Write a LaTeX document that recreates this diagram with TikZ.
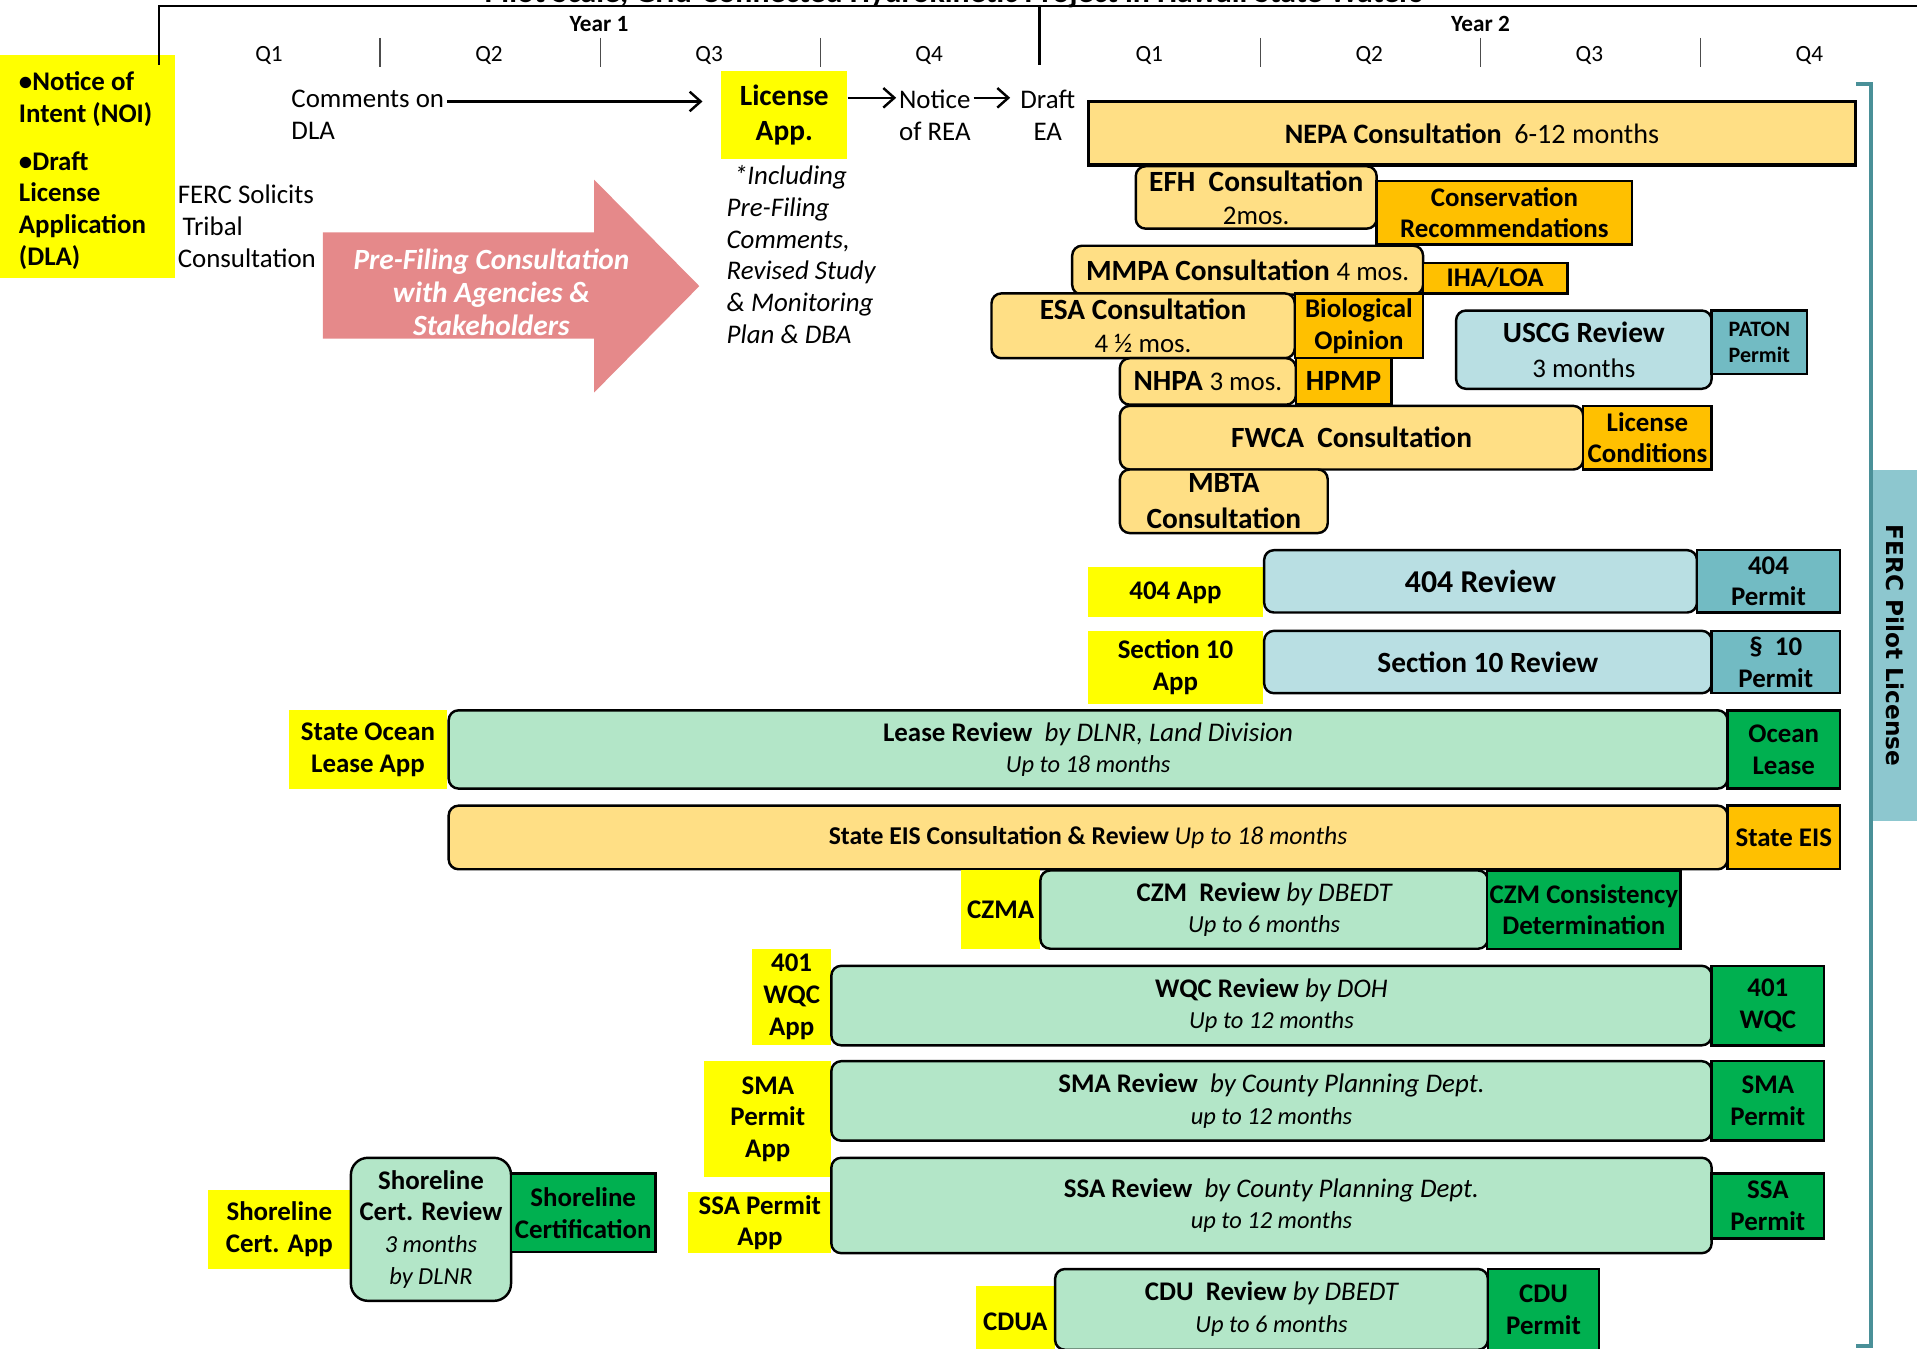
\documentclass[tikz,border=0pt]{standalone}
\usepackage{fontspec}
\setmainfont{Carlito}
\newfontfamily\labelfont{DejaVu Sans}
\usetikzlibrary{arrows.meta}

\definecolor{appY}{HTML}{FFFF00}
\definecolor{consO}{HTML}{FFDF85}
\definecolor{outO}{HTML}{FFC000}
\definecolor{revB}{HTML}{B9DFE3}
\definecolor{permB}{HTML}{72BBC3}
\definecolor{revG}{HTML}{B3E6C8}
\definecolor{permG}{HTML}{00B050}
\definecolor{pinkA}{HTML}{E5898A}
\definecolor{brk}{HTML}{4A9098}
\definecolor{brkfill}{HTML}{8DC7CF}

\newcommand{\sizeQ}{\fontsize{9.5}{11}\selectfont}
\newcommand{\sizeS}{\fontsize{9}{10.5}\selectfont}
\newcommand{\sizeM}{\fontsize{10}{12.5}\selectfont}
\newcommand{\sizeN}{\fontsize{11}{13}\selectfont}
\newcommand{\sizeL}{\fontsize{12}{13.5}\selectfont}
\newcommand{\sizeX}{\fontsize{13}{15}\selectfont}
\newcommand{\itnote}[1]{{\mdseries\itshape #1}}

\tikzset{
  sz/.style 2 args={minimum width=#1*0.5pt, minimum height=#2*0.5pt},
  base/.style={inner sep=1pt, align=center, font=\sizeN\bfseries},
  app/.style={base, fill=appY},
  cons/.style={base, draw, line width=1pt, rounded corners=4pt, fill=consO},
  outc/.style={base, draw, line width=1pt, fill=outO},
  revb/.style={base, draw, line width=1pt, rounded corners=4pt, fill=revB},
  permb/.style={base, draw, line width=1pt, fill=permB},
  revg/.style={base, draw, line width=1pt, rounded corners=4pt, fill=revG},
  permg/.style={base, draw, line width=1pt, fill=permG},
  arr/.style={line width=1pt, -{Straight Barb[length=4.5pt,width=8pt]}},
}

\begin{document}
\begin{tikzpicture}[x=0.5pt, y=-0.5pt]
\useasboundingbox (0,0) rectangle (1568,1103);

% left notes
\node[app, sz={143}{182}, align=left] (noi) at (71.5,136) {};
\node[font=\sizeN\bfseries, align=left, inner sep=0pt] (noitxt) at (70,139.5) {\textbullet Notice of\\Intent (NOI)\\[6.5pt]\textbullet Draft\\License\\Application\\(DLA)};
\node[font=\sizeN, align=left, anchor=west, inner sep=1pt] (ferc) at (143,185) {FERC Solicits\\\hspace*{2pt}Tribal\\Consultation};

% time line
\node[font=\fontsize{13}{15}\selectfont\bfseries, anchor=base] (title) at (780,2) {Pilot Scale, Grid-Connected Hydrokinetic Project in Hawaii State Waters};
\draw[line width=1pt] (130,53) -- (130,5) -- (1570,5);
\draw[line width=1.3pt] (850,5) -- (850,53);
\foreach \x in {311,491,671,1031,1211,1391}
  \draw[line width=0.6pt, black!70] (\x,31) -- (\x,55);
\node[font=\sizeQ\bfseries] (yr1) at (490,20) {Year 1};
\node[font=\sizeQ\bfseries] (yr2) at (1211,20) {Year 2};
\foreach \x/\q [count=\i] in {220/Q1,400/Q2,580/Q3,760/Q4,940/Q1,1120/Q2,1300/Q3,1480/Q4}
  \node[font=\sizeQ] (q\i) at (\x,45) {\q};

% pre-filing
\node[font=\sizeN, align=left, anchor=west, inner sep=1pt] (cmt) at (236,94) {Comments on\\DLA};
\node[app, font=\sizeL\bfseries, sz={103}{72}] (lic) at (641.5,94) {License\\[1pt]App.};
\node[font=\sizeN, align=left, anchor=west, inner sep=1pt] (rea) at (733,94) {Notice\\of REA};
\node[font=\sizeN, align=center, inner sep=1pt] (ea) at (857,94) {Draft\\EA};
\draw[arr, shorten >=7.5pt] (cmt.east |- 0,83) -- (lic.west |- 0,83);
\draw[arr] (lic.east |- 0,80) -- (rea.west |- 0,80);
\draw[arr, shorten >=3pt] (rea.east |- 0,80) -- (ea.west |- 0,80);
\node[font=\sizeN\itshape, align=left, anchor=north west, inner sep=1pt] (incl) at (592,133) {\hspace*{3pt}*Including\\Pre-Filing\\Comments,\\Revised Study\\\& Monitoring\\Plan \& DBA};

\fill[pinkA] (264,190) -- (486,190) -- (486,147) -- (572,234) -- (486,321) -- (486,277) -- (264,277) -- cycle;
\node[font=\sizeL\bfseries\itshape, text=white, align=center, inner sep=0pt] (pf) at (402,239) {Pre-Filing Consultation\\with Agencies \&\\Stakeholders};

% FERC side
\node[fill=brkfill, rotate=-90, sz={287}{40}, font=\labelfont\fontsize{9.5}{11}\selectfont\bfseries] (pilot) at (1550,528) {FERC Pilot License};
\draw[brk, line width=1.6pt] (1518,69) -- (1530,69) -- (1530,1101) -- (1518,1101);

\node[cons, sharp corners, line width=1.3pt, sz={628}{52}, font=\fontsize{11.5}{13}\selectfont\bfseries] (nepa) at (1204,109) {NEPA Consultation\ \ \textmd{6-12 months}};
\node[cons, sz={197}{51}, font=\sizeL\bfseries] (efh) at (1027.5,161.5) {EFH\ \ Consultation\\\textmd{\sizeN 2mos.}};
\node[outc, sz={209}{52}] (csv) at (1230.5,174) {Conservation\\Recommendations};
\node[cons, sz={287}{40}, font=\sizeL\bfseries] (mmpa) at (1020.5,221) {MMPA Consultation \textmd{\sizeN 4 mos.}};
\node[outc, sz={118}{25}] (iha) at (1223,227.5) {IHA/LOA};
\node[cons, sz={248}{53}, font=\sizeL\bfseries] (esa) at (935,266.5) {ESA Consultation\\\textmd{\sizeN 4 ½ mos.}};
\node[outc, sz={105}{53}] (bio) at (1111.5,266.5) {Biological\\Opinion};
\node[cons, sz={144}{38}, font=\sizeL\bfseries] (nhpa) at (988,312) {NHPA \textmd{\sizeN 3 mos.}};
\node[outc, sz={78}{38}, font=\sizeL\bfseries] (hpmp) at (1099,312) {HPMP};
\node[revb, sz={209}{64}, font=\sizeL\bfseries] (uscg) at (1295.5,286) {USCG Review\\[1pt]\textmd{\sizeN 3 months}};
\node[permb, sz={78}{52}, font=\sizeS\bfseries] (paton) at (1439,280) {PATON\\Permit};
\node[cons, sz={379}{52}, font=\sizeL\bfseries] (fwca) at (1105.5,358) {FWCA\ \ Consultation};
\node[outc, sz={105}{52}] (lcond) at (1347.5,358) {License\\Conditions};
\node[cons, sz={170}{52}, font=\sizeL\bfseries] (mbta) at (1001,410) {MBTA\\[1pt]Consultation};

% federal permits
\node[app, sz={143}{41}] (app404) at (961.5,484.5) {404 App};
\node[revb, sz={354}{51}, font=\sizeX\bfseries] (rev404) at (1211,475.5) {404 Review};
\node[permb, sz={117}{51}] (perm404) at (1446.5,475.5) {404\\Permit};
\node[app, sz={143}{60}] (app10) at (961.5,546) {Section 10\\App};
\node[revb, sz={366}{51}, font=\sizeL\bfseries] (rev10) at (1217,541.5) {Section 10 Review};
\node[permb, sz={105}{51}] (perm10) at (1452.5,541.5) {§\ \ 10\\Permit};

% state permits
\node[app, sz={130}{64}] (appol) at (301,613) {State Ocean\\Lease App};
\node[revg, sz={1046}{64}] (revol) at (890,613) {Lease Review\ \ \itnote{by DLNR, Land Division}\\\itnote{\sizeM Up to 18 months}};
\node[permg, sz={92}{64}] (permol) at (1459,613) {Ocean\\Lease};

\node[cons, sz={1046}{52}, font=\fontsize{10.5}{12.5}\selectfont\bfseries] (eis) at (890,685) {State EIS Consultation \& Review \itnote{Up to 18 months}};
\node[outc, sz={92}{52}] (stateeis) at (1459,685) {State EIS};

\node[app, sz={65}{64}] (czma) at (818.5,744) {CZMA};
\node[revg, sz={366}{64}] (czm) at (1034,744) {CZM\ \ Review \itnote{by DBEDT}\\\itnote{\sizeM Up to 6 months}};
\node[permg, sz={157}{64}] (czmcd) at (1295.5,744) {CZM Consistency\\Determination};

\node[app, sz={65}{79}] (app401) at (647.5,815.5) {401\\WQC\\App};
\node[revg, sz={720}{65}] (wqc) at (1040,822.5) {WQC Review \itnote{by DOH}\\\itnote{\sizeM Up to 12 months}};
\node[permg, sz={92}{65}] (perm401) at (1446,822.5) {401\\WQC};

\node[app, sz={104}{95}] (appsma) at (628,915.5) {SMA\\Permit\\App};
\node[revg, sz={720}{65}] (sma) at (1040,900.5) {SMA Review\ \ \itnote{by County Planning Dept.}\\\itnote{\sizeM up to 12 months}};
\node[permg, sz={92}{65}] (permsma) at (1446,900.5) {SMA\\Permit};

\node[app, sz={117}{50}] (appssa) at (621.5,1000) {SSA Permit\\App};
\node[revg, sz={720}{78}] (ssa) at (1040,986) {SSA Review\ \ \itnote{by County Planning Dept.}\\\itnote{\sizeM up to 12 months}};
\node[permg, sz={92}{53}] (permssa) at (1446,986.5) {SSA\\Permit};

\node[app, sz={117}{65}] (appsh) at (228.5,1005.5) {Shoreline\\Cert. App};
\node[revg, rounded corners=7pt, sz={131}{117}] (revsh) at (352.5,1005.5) {Shoreline\\Cert. Review\\\itnote{\sizeM 3 months}\\\itnote{\sizeM by DLNR}};
\node[permg, sz={118}{64}] (permsh) at (477,992) {Shoreline\\Certification};

\node[app, sz={65}{58}] (cdua) at (830.5,1081) {CDUA};
\node[revg, sz={354}{66}] (cdu) at (1040,1071) {CDU\ \ Review \itnote{by DBEDT}\\\itnote{\sizeM Up to 6 months}};
\node[permg, sz={91}{66}] (permcdu) at (1262.5,1071) {CDU\\Permit};
\end{tikzpicture}
\end{document}
